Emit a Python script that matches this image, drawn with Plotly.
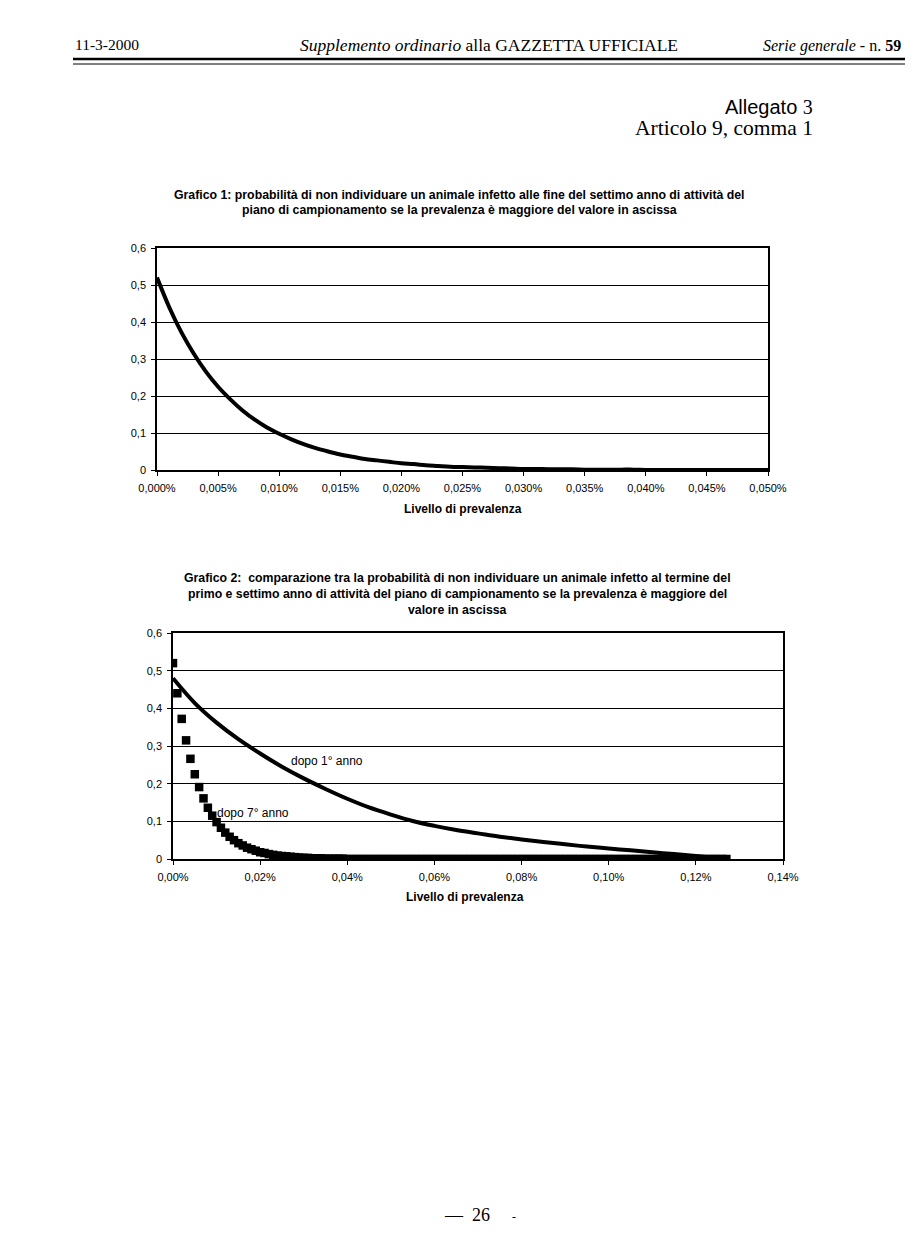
import plotly.graph_objects as go

# prevalence level in percent, sampled every 0.001%
prevalenza = [i / 1000 for i in range(128)]

# probability of missing an infected animal after the 7th year
prob_7_anno = [
    0.520, 0.440, 0.372, 0.315, 0.266, 0.225, 0.191, 0.161, 0.136, 0.115,
    0.098, 0.083, 0.070, 0.059, 0.050, 0.042, 0.036, 0.030, 0.026, 0.022,
    0.018, 0.016, 0.013, 0.011, 0.009, 0.008, 0.007, 0.006, 0.005, 0.004,
    0.003, 0.003, 0.002, 0.002, 0.002, 0.001, 0.001, 0.001, 0.001, 0.001,
    0.0, 0.0, 0.0, 0.0, 0.0, 0.0, 0.0, 0.0, 0.0, 0.0,
    0.0, 0.0, 0.0, 0.0, 0.0, 0.0, 0.0, 0.0, 0.0, 0.0,
    0.0, 0.0, 0.0, 0.0, 0.0, 0.0, 0.0, 0.0, 0.0, 0.0,
    0.0, 0.0, 0.0, 0.0, 0.0, 0.0, 0.0, 0.0, 0.0, 0.0,
    0.0, 0.0, 0.0, 0.0, 0.0, 0.0, 0.0, 0.0, 0.0, 0.0,
    0.0, 0.0, 0.0, 0.0, 0.0, 0.0, 0.0, 0.0, 0.0, 0.0,
    0.0, 0.0, 0.0, 0.0, 0.0, 0.0, 0.0, 0.0, 0.0, 0.0,
    0.0, 0.0, 0.0, 0.0, 0.0, 0.0, 0.0, 0.0, 0.0, 0.0,
    0.0, 0.0, 0.0, 0.0, 0.0, 0.0, 0.0, 0.0,
]

# probability after the 1st year
prevalenza_1 = [0.000, 0.005, 0.010, 0.015, 0.020, 0.025, 0.030, 0.035, 0.040,
                0.045, 0.050, 0.055, 0.060, 0.065, 0.070, 0.075, 0.080, 0.085,
                0.090, 0.095, 0.100, 0.105, 0.110, 0.115, 0.120, 0.125, 0.127]
prob_1_anno = [0.480, 0.414, 0.362, 0.318, 0.280, 0.245, 0.214, 0.186, 0.160,
               0.137, 0.118, 0.101, 0.088, 0.077, 0.068, 0.059, 0.052, 0.045,
               0.039, 0.033, 0.028, 0.023, 0.018, 0.013, 0.008, 0.003, 0.001]

y_ticks = [0, 0.1, 0.2, 0.3, 0.4, 0.5, 0.6]
y_labels = ["0", "0,1", "0,2", "0,3", "0,4", "0,5", "0,6"]
x1_ticks = [0, 0.005, 0.010, 0.015, 0.020, 0.025, 0.030, 0.035, 0.040, 0.045, 0.050]
x1_labels = ["0,000%", "0,005%", "0,010%", "0,015%", "0,020%", "0,025%",
             "0,030%", "0,035%", "0,040%", "0,045%", "0,050%"]
x2_ticks = [0, 0.02, 0.04, 0.06, 0.08, 0.10, 0.12, 0.14]
x2_labels = ["0,00%", "0,02%", "0,04%", "0,06%", "0,08%", "0,10%", "0,12%", "0,14%"]

W, H = 919, 1244
OFF = 8  # the page body adds an 8px margin around the figure
SANS = "Liberation Sans, Arial, sans-serif"
SERIF = "Liberation Serif, Times New Roman, serif"


def px_x(p):
    return (p - OFF) / W


def px_y(p):
    return 1 - (p - OFF) / H


n1 = 51  # graph 1 shows prevalence up to 0.050%

fig = go.Figure()
fig.add_trace(go.Scatter(
    x=prevalenza[:n1], y=prob_7_anno[:n1], mode="lines", line_shape="spline",
    line=dict(color="black", width=4), xaxis="x", yaxis="y", showlegend=False,
))
fig.add_trace(go.Scatter(
    x=prevalenza_1, y=prob_1_anno, mode="lines", line_shape="spline",
    line=dict(color="black", width=4), xaxis="x2", yaxis="y2", showlegend=False,
))
fig.add_trace(go.Scatter(
    x=prevalenza, y=prob_7_anno, mode="markers",
    marker=dict(symbol="square", size=8.5, color="black"),
    xaxis="x2", yaxis="y2", showlegend=False,
))

axis_common = dict(
    showline=True, linecolor="black", linewidth=1.5, mirror=True,
    ticks="outside", ticklen=4, tickcolor="black", zeroline=False,
    tickfont=dict(family=SANS, size=11, color="black"), ticklabelstandoff=3,
)

fig.update_layout(
    width=W, height=H,
    margin=dict(l=0, r=0, t=0, b=0, autoexpand=False),
    plot_bgcolor="white", paper_bgcolor="white",
    xaxis=dict(domain=[px_x(157), px_x(768)], range=[0, 0.05],
               tickvals=x1_ticks, ticktext=x1_labels, showgrid=False,
               anchor="y", **axis_common),
    yaxis=dict(domain=[px_y(470), px_y(248)], range=[0, 0.6],
               tickvals=y_ticks, ticktext=y_labels, showgrid=True,
               gridcolor="black", gridwidth=1, anchor="x", **axis_common),
    xaxis2=dict(domain=[px_x(173), px_x(783)], range=[0, 0.14],
                tickvals=x2_ticks, ticktext=x2_labels, showgrid=False,
                anchor="y2", **axis_common),
    yaxis2=dict(domain=[px_y(859), px_y(633)], range=[0, 0.6],
                tickvals=y_ticks, ticktext=y_labels, showgrid=True,
                gridcolor="black", gridwidth=1, anchor="x2", **axis_common),
)

texts = [
    # page header
    ("11-3-2000", 73, 44, "left", SERIF, 15.5, False),
    ("<i>Supplemento ordinario</i> alla GAZZETTA UFFICIALE", 298, 45, "left", SERIF, 17.5, False),
    ("<i>Serie generale</i> - n. <b>59</b>", 903, 46, "right", SERIF, 16, False),
    ("Allegato <span style='font-family:Liberation Serif'>3</span>", 815, 107, "right", SANS, 20, False),
    ("Articolo 9, comma 1", 815, 128, "right", SERIF, 21.5, False),
    # graph 1
    ("Grafico 1: probabilità di non individuare un animale infetto alle fine del settimo anno di attività del",
     459, 195, "center", SANS, 12.3, True),
    ("piano di campionamento se la prevalenza è maggiore del valore in ascissa",
     459, 210, "center", SANS, 12.3, True),
    ("Livello di prevalenza", 463, 509, "center", SANS, 12, True),
    # graph 2
    ("Grafico 2:  comparazione tra la probabilità di non individuare un animale infetto al termine del",
     457, 578, "center", SANS, 12.3, True),
    ("primo e settimo anno di attività del piano di campionamento se la prevalenza è maggiore del",
     457, 594, "center", SANS, 12.3, True),
    ("valore in ascissa", 457, 610, "center", SANS, 12.3, True),
    ("Livello di prevalenza", 465, 897, "center", SANS, 12, True),
    ("dopo 1° anno", 289, 761, "left", SANS, 12, False),
    ("dopo 7° anno", 215, 813, "left", SANS, 12, False),
    # page number
    ("—  26", 467, 1215, "center", SERIF, 18, False),
    ("-", 514, 1217, "center", SERIF, 12, False),
]
for text, x, y, align, family, size, bold in texts:
    fig.add_annotation(
        text=f"<b>{text}</b>" if bold else text,
        x=px_x(x), y=px_y(y), xref="paper", yref="paper",
        xanchor=align, yanchor="middle", showarrow=False,
        font=dict(family=family, size=size, color="black"),
    )

# double rule under the header
fig.add_shape(type="line", xref="paper", yref="paper",
              x0=px_x(73), x1=px_x(905), y0=px_y(59), y1=px_y(59),
              line=dict(color="black", width=2.5))
fig.add_shape(type="line", xref="paper", yref="paper",
              x0=px_x(73), x1=px_x(905), y0=px_y(64), y1=px_y(64),
              line=dict(color="black", width=1))

fig.write_html("out.html")
